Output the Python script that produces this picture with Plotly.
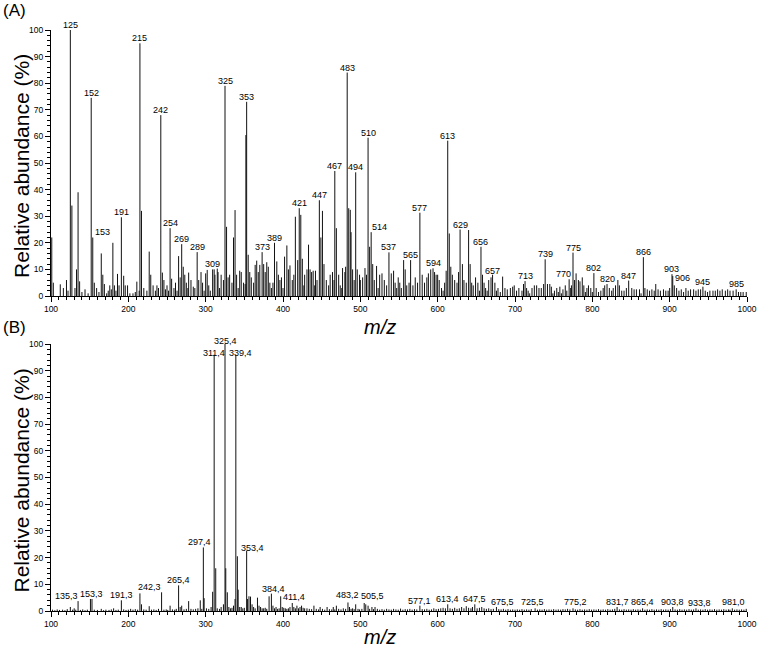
import plotly.graph_objects as go

# ---------------- Data: panel (A) ----------------
mz_a = [101, 103, 112, 116, 120, 122, 125, 127, 131, 133, 135, 137, 140, 144, 148, 152, 154, 156, 159, 162,
        165, 167, 169, 172, 174, 176, 178, 180, 182, 184, 186, 188, 191, 194, 196, 199, 202, 206, 209, 211,
        214, 215, 217, 220, 224, 227, 229, 232, 235, 237, 239, 242, 244, 246, 248, 250, 252, 254, 256, 259,
        261, 263, 265, 267, 269, 271, 273, 275, 277, 278, 281, 284, 286, 289, 291, 294, 296, 298, 300, 302,
        304, 306, 309, 311, 312, 315, 316, 318, 320, 323, 325, 327, 329, 331, 334, 336, 338, 340, 342, 344,
        346, 349, 351, 352, 353, 355, 357, 359, 362, 364, 366, 368, 370, 373, 375, 377, 379, 381, 383, 385,
        387, 389, 392, 394, 396, 398, 400, 402, 405, 407, 409, 412, 414, 416, 419, 421, 423, 425, 427, 428,
        431, 433, 435, 437, 439, 441, 442, 444, 447, 449, 451, 453, 456, 459, 461, 464, 466, 467, 469, 472,
        474, 476, 477, 480, 481, 483, 485, 487, 488, 490, 492, 494, 496, 499, 500, 503, 506, 508, 510, 512,
        514, 516, 518, 521, 523, 525, 528, 531, 534, 537, 540, 543, 545, 547, 549, 551, 553, 556, 558, 560,
        563, 565, 568, 571, 574, 577, 580, 583, 586, 588, 591, 594, 596, 598, 600, 602, 605, 607, 609, 611,
        613, 615, 617, 619, 622, 625, 627, 629, 632, 634, 637, 640, 642, 644, 646, 649, 652, 654, 656, 658,
        660, 662, 664, 666, 669, 671, 674, 676, 678, 681, 684, 687, 690, 694, 697, 699, 702, 705, 709, 711,
        713, 715, 717, 719, 722, 725, 728, 731, 734, 737, 739, 742, 745, 747, 749, 751, 754, 756, 758, 760,
        762, 765, 767, 770, 772, 773, 775, 777, 779, 782, 784, 787, 789, 791, 793, 795, 798, 800, 802, 805,
        808, 811, 814, 816, 819, 822, 825, 827, 830, 833, 835, 838, 841, 844, 847, 851, 854, 857, 861, 863,
        866, 868, 871, 874, 877, 880, 882, 885, 888, 892, 895, 898, 900, 903, 904, 906, 909, 912, 915, 918,
        921, 924, 927, 931, 934, 937, 940, 943, 946, 949, 952, 956, 959, 962, 965, 968, 972, 975, 978, 982,
        986, 989, 992, 995, 999]
ab_a = [22, 5, 4.4, 3, 6, 2, 100, 34, 3, 10, 39, 5.5, 1.5, 2.5, 1, 74.5, 22, 5, 3, 1.5,
        16, 8, 4.5, 1, 2, 4, 2.5, 20, 4, 2, 8.3, 4, 29.6, 7.6, 4, 4, 1, 1, 1.5, 5.4,
        2, 95, 32, 3, 2, 16.7, 8, 4, 2, 4, 3, 68, 8.8, 6, 2.5, 4, 2, 25.5, 6.5, 3,
        5, 2, 15, 7, 19.5, 11, 8, 5, 3, 8.8, 6, 3.5, 3, 16.5, 6, 9, 5, 2, 8.5, 9.8,
        4, 2, 10, 10, 8, 10.3, 9, 3, 8, 6, 79, 26, 7, 8, 5, 22, 32.3, 8, 3, 9.5,
        9, 5, 4.5, 60.5, 73, 15.5, 9, 7, 5, 11.7, 13.3, 9, 11.7, 16.5, 12, 9, 12.7, 11, 5, 3,
        5, 20, 13, 8, 6, 7, 3, 14.8, 19, 10, 11.5, 6, 8, 29.8, 13.5, 33, 30.5, 14, 4, 8,
        10, 19.3, 10, 9, 9.5, 4, 9.5, 6, 36, 22, 32, 12, 6, 4, 8, 9, 6, 47, 25.5, 8,
        4, 3, 10.5, 9, 11, 84, 33, 32.4, 24, 10, 6, 46.5, 10, 8, 6, 7, 10.5, 8, 59.5, 18.5,
        24, 12, 6, 11.3, 3, 8, 8.5, 6, 4, 16.4, 8.5, 9.5, 5, 3, 7, 5, 3, 13.5, 10, 4,
        5, 13.5, 4, 7, 5, 31.3, 8, 5, 7, 8.5, 10, 10.4, 9, 8, 8, 6, 3, 2, 5, 9.5,
        58.4, 23.5, 11, 8, 6, 5, 9, 25, 12, 6, 5, 24.8, 12, 5, 4, 7, 5, 2, 18.5, 8,
        5, 3, 2, 6, 7, 8, 5, 2, 3, 1.5, 7.3, 3, 2.5, 3, 3.5, 4, 2, 3, 2, 4.5,
        5.6, 3, 2, 1, 3, 4, 4, 3, 3, 4.5, 13.8, 4.5, 4.5, 3.5, 1, 2, 3, 1.5, 3.5, 1,
        2.5, 4, 2, 6.3, 3, 4, 16.3, 6, 8.5, 6, 5.5, 7, 4, 1.5, 3, 4, 3, 1.5, 8.6, 3,
        1.5, 2, 3, 4, 4.5, 3, 2, 3, 4, 6, 4, 2, 2, 3, 5.8, 3, 2.5, 2.5, 2.5, 1,
        14.6, 3, 2.5, 2, 2.5, 2, 4.5, 2.5, 2, 2.5, 2, 2, 3, 8.2, 7.5, 4, 3, 2, 2.5, 1.5,
        3, 2, 2.5, 2.5, 2, 2.5, 2.5, 3.5, 2, 1.5, 2, 2, 2, 2.5, 2, 2.5, 2, 2.5, 2, 2,
        2.5, 1.5, 1.5, 1.5, 1.5]

label_mz_a = [125, 152, 154, 191, 215, 242, 254, 269, 289, 309, 325, 353, 373, 389, 421, 447, 467, 483,
              494, 510, 514, 537, 565, 577, 594, 613, 629, 656, 658, 713, 739, 770, 775, 802, 819, 847,
              866, 903, 906, 943, 986]
label_txt_a = ["125", "152", "153", "191", "215", "242", "254", "269", "289", "309", "325", "353", "373",
               "389", "421", "447", "467", "483", "494", "510", "514", "537", "565", "577", "594", "613",
               "629", "656", "657", "713", "739", "770", "775", "802", "820", "847", "866", "903", "906",
               "945", "985"]

# ---------------- Data: panel (B) ----------------
mz_b = [102, 105, 108, 111, 115, 118, 121, 125, 128, 130, 132, 135, 138, 141, 144, 147, 151, 153, 156, 160,
        165, 168, 171, 175, 178, 181, 184, 187, 191, 194, 197, 200, 203, 206, 209, 212, 215, 217, 220, 223,
        227, 230, 233, 236, 239, 243, 246, 249, 251, 254, 257, 260, 262, 265, 267, 269, 272, 275, 278, 281,
        284, 287, 290, 293, 295, 297, 298, 301, 304, 307, 309, 311, 313, 315, 318, 320, 323, 325, 326, 328,
        330, 332, 334, 336, 338, 339, 341, 342, 344, 346, 348, 350, 353, 354, 356, 358, 360, 362, 364, 367,
        369, 371, 373, 375, 377, 379, 382, 385, 387, 389, 391, 393, 395, 397, 399, 401, 403, 405, 407, 409,
        412, 414, 416, 418, 420, 422, 424, 426, 428, 431, 434, 437, 440, 443, 446, 448, 451, 454, 457, 460,
        463, 465, 467, 469, 472, 475, 478, 481, 484, 486, 488, 490, 492, 494, 497, 499, 502, 505, 507, 510,
        512, 515, 517, 519, 522, 525, 528, 531, 534, 537, 540, 543, 546, 549, 552, 555, 558, 561, 564, 567,
        570, 573, 577, 580, 583, 586, 589, 592, 595, 598, 601, 604, 607, 610, 613, 616, 619, 622, 625, 628,
        631, 634, 637, 640, 643, 645, 648, 651, 654, 657, 660, 663, 666, 669, 672, 676, 679, 682, 685, 688,
        691, 694, 697, 700, 703, 706, 709, 712, 715, 718, 721, 726, 729, 732, 735, 738, 741, 744, 747, 750,
        753, 756, 759, 762, 765, 768, 771, 775, 778, 781, 784, 787, 790, 793, 796, 799, 802, 805, 808, 811,
        814, 817, 820, 823, 826, 829, 832, 835, 838, 841, 844, 847, 850, 853, 856, 859, 862, 865, 868, 871,
        874, 877, 880, 883, 886, 889, 892, 895, 898, 901, 904, 907, 910, 913, 916, 919, 922, 925, 928, 931,
        934, 937, 940, 943, 946, 949, 952, 955, 958, 961, 964, 967, 970, 973, 976, 978, 981, 984, 987, 990,
        993, 996, 999]
ab_b = [0.5, 0.3, 0.6, 0.4, 0.5, 0.3, 0.7, 1.5, 0.5, 1, 0.5, 3.7, 0.4, 0.6, 0.3, 0.5, 4.5, 4.5, 0.5, 0.4,
        0.8, 0.3, 0.5, 0.4, 0.6, 1, 0.4, 0.5, 4, 0.6, 0.4, 0.5, 0.8, 0.5, 0.7, 0.5, 6.6, 2.5, 0.6, 0.5,
        1.8, 0.5, 0.6, 0.4, 0.8, 7, 0.5, 0.6, 0.4, 2, 0.6, 0.5, 0.8, 9.6, 1.5, 2, 0.6, 0.8, 3.7, 0.8,
        0.6, 0.8, 1, 4, 0.8, 23.8, 4.8, 1, 0.8, 1.5, 7.2, 96, 16, 1, 0.8, 1.5, 2.5, 100, 16, 7,
        1.5, 1, 1.2, 2, 4.5, 96, 20.5, 8, 1.5, 1.5, 1, 1.2, 22.6, 4.5, 5.5, 5.4, 2.5, 1.5, 1, 5,
        2, 1.5, 1, 1, 1.2, 0.8, 5.5, 6.5, 2, 1, 1.5, 0.8, 1, 5.5, 1.5, 1.2, 1, 0.8, 1, 1.5,
        3, 1.5, 1, 2, 1, 1.5, 2, 1.2, 1, 1, 0.8, 0.7, 2, 0.8, 0.6, 1.5, 0.8, 0.5, 1.5, 0.7,
        0.6, 1.5, 0.6, 2, 0.8, 0.6, 1, 0.8, 3.2, 1.5, 0.8, 1, 0.7, 2.5, 0.8, 0.6, 0.8, 3, 2.5, 2,
        0.8, 1.5, 0.7, 1.5, 0.8, 0.5, 0.7, 0.5, 0.8, 0.6, 0.5, 0.8, 0.6, 0.5, 0.9, 0.5, 0.7, 0.6, 0.8, 0.5,
        0.7, 0.6, 2, 0.7, 0.6, 0.8, 0.5, 0.6, 1, 0.7, 0.8, 1, 1.2, 1, 2.5, 1, 0.8, 1.2, 0.8, 1,
        1.5, 1, 1.8, 1.2, 1, 1.5, 2.5, 1, 1.2, 1.5, 1, 0.8, 1, 0.7, 0.8, 1.5, 0.7, 0.6, 0.8, 0.5,
        0.7, 0.5, 0.6, 0.5, 0.6, 0.5, 0.7, 0.5, 0.6, 0.5, 0.7, 1, 0.5, 0.6, 0.5, 0.7, 0.5, 0.6, 0.5, 0.7,
        0.5, 0.6, 0.5, 0.7, 0.6, 0.8, 0.6, 1, 0.6, 0.5, 0.7, 0.5, 0.6, 0.5, 0.7, 0.5, 0.6, 0.5, 0.7, 0.5,
        0.6, 0.5, 0.7, 0.5, 0.6, 0.8, 1.5, 0.6, 0.5, 0.7, 0.5, 0.6, 0.5, 0.7, 0.5, 0.6, 0.5, 1, 0.5, 0.6,
        0.5, 0.7, 0.5, 0.6, 0.5, 0.7, 0.5, 0.6, 0.5, 0.7, 1.5, 0.6, 0.5, 0.7, 0.5, 0.6, 0.5, 0.7, 0.5, 0.6,
        1, 0.5, 0.6, 0.5, 0.7, 0.5, 0.6, 0.5, 0.7, 0.5, 0.6, 0.5, 0.7, 0.5, 0.6, 0.5, 1, 0.5, 0.6, 0.5,
        0.6, 0.5, 0.8]

label_mz_b = [135, 153, 191, 243, 265, 297, 311, 325, 339, 353, 385, 412, 484, 505, 577, 613, 648, 676,
              726, 775, 832, 865, 904, 934, 981]
label_txt_b = ["135,3", "153,3", "191,3", "242,3", "265,4", "297,4", "311,4", "325,4", "339,4", "353,4",
               "384,4", "411,4", "483,2", "505,5", "577,1", "613,4", "647,5", "675,5", "725,5", "775,2",
               "831,7", "865,4", "903,8", "933,8", "981,0"]

# ---------------- Styling (label offsets in pixels) ----------------
shift_a = {"153": (10, 0), "514": (8, 0), "657": (10, -1), "770": (-6, 0), "906": (8, 2)}
shift_b = {"135,3": (-12, 0), "242,3": (-12, 0), "297,4": (-4, 0), "311,4": (0, -3), "325,4": (0, -2),
           "339,4": (5, -3), "353,4": (6, -2), "384,4": (2, 0), "411,4": (2, 1), "483,2": (0, 2),
           "505,5": (8, 2), "675,5": (6, 0), "725,5": (-3, 1), "775,2": (2, 1), "865,4": (0, 1),
           "933,8": (4, 0), "981,0": (1, 1)}

FONT = "Arial, Liberation Sans, sans-serif"
W, H = 759, 647
XL, XR = 51, 747
A_TOP, A_BOT = 30, 296
B_TOP, B_BOT = 344, 611


def sticks(mz, ab):
    xs, ys = [], []
    for m, v in zip(mz, ab):
        xs += [m, m, None]
        ys += [0, v, None]
    return xs, ys


fig = go.Figure()
for mz, ab, xa, ya in [(mz_a, ab_a, "x", "y"), (mz_b, ab_b, "x2", "y2")]:
    xs, ys = sticks(mz, ab)
    fig.add_trace(go.Scatter(x=xs, y=ys, mode="lines", xaxis=xa, yaxis=ya,
                             line=dict(color="#111111", width=1), hoverinfo="skip", showlegend=False))

annotations = []


def add_labels(mzs, txts, ab_lookup, xref, yref, shifts):
    for m, t in zip(mzs, txts):
        v = ab_lookup[m]
        dx, dy = shifts.get(t, (0, 0))
        annotations.append(dict(x=m, y=v, xref=xref, yref=yref, text=t, showarrow=False,
                                xanchor="center", yanchor="bottom", xshift=dx, yshift=dy - 1,
                                font=dict(family=FONT, size=9, color="black"), borderpad=0))


add_labels(label_mz_a, label_txt_a, dict(zip(mz_a, ab_a)), "x", "y", shift_a)
add_labels(label_mz_b, label_txt_b, dict(zip(mz_b, ab_b)), "x2", "y2", shift_b)


def px(xp):
    return xp / W


def py(yp):
    return 1 - yp / H


for letter, ycen in [("(A)", 11), ("(B)", 327)]:
    annotations.append(dict(x=px(1), y=py(ycen), xref="paper", yref="paper", text=letter,
                            showarrow=False, xanchor="left", yanchor="middle",
                            font=dict(family=FONT, size=17, color="black")))
for ycen in [(A_TOP + A_BOT) / 2 + 3, (B_TOP + B_BOT) / 2 + 3]:
    annotations.append(dict(x=px(21), y=py(ycen), xref="paper", yref="paper",
                            text="Relative abundance (%)", textangle=-90, showarrow=False,
                            xanchor="center", yanchor="middle",
                            font=dict(family=FONT, size=21, color="black")))
for ycen in [327, 637]:
    annotations.append(dict(x=px(380), y=py(ycen), xref="paper", yref="paper",
                            text="<i>m/z</i>", showarrow=False, xanchor="center", yanchor="middle",
                            font=dict(family=FONT, size=20, color="black")))

xaxis_style = dict(range=[100, 1000], domain=[px(XL), px(XR)], showline=True, linecolor="black",
                   linewidth=1, ticks="outside", ticklen=5, tickwidth=1, tickcolor="black",
                   tick0=0, dtick=100, showgrid=False, zeroline=False, automargin=False,
                   tickfont=dict(family=FONT, size=8.5, color="black"),
                   minor=dict(dtick=10, ticks="outside", ticklen=3, tickcolor="black", showgrid=False))
yaxis_style = dict(range=[0, 100], showline=True, linecolor="black", linewidth=1, ticks="outside",
                   ticklen=5, tickwidth=1, tickcolor="black", tick0=0, dtick=10, showgrid=False,
                   zeroline=False, automargin=False, tickfont=dict(family=FONT, size=8.5, color="black"),
                   minor=dict(dtick=2, ticks="outside", ticklen=3, tickcolor="black", showgrid=False))

fig.update_layout(
    width=W, height=H, margin=dict(l=0, r=0, t=0, b=0, pad=0, autoexpand=False),
    paper_bgcolor="white", plot_bgcolor="white",
    xaxis=dict(**xaxis_style, anchor="y"),
    yaxis=dict(**yaxis_style, domain=[py(A_BOT), py(A_TOP)], anchor="x"),
    xaxis2=dict(**xaxis_style, anchor="y2"),
    yaxis2=dict(**yaxis_style, domain=[py(B_BOT), py(B_TOP)], anchor="x2"),
    annotations=annotations,
)

fig.write_html("out.html", config={"displayModeBar": False},
               post_script="document.body.style.margin='0px';document.body.style.overflow='hidden';")
